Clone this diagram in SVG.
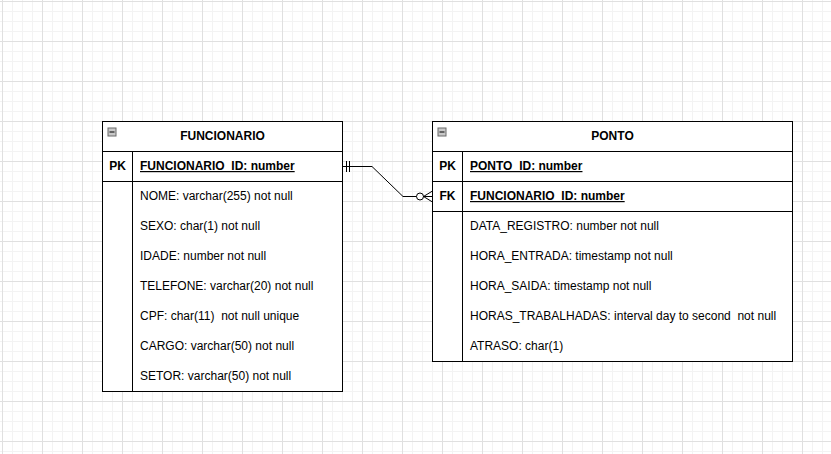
<svg xmlns="http://www.w3.org/2000/svg" width="831" height="454" viewBox="0 0 831 454">
<defs>
<pattern id="minor" x="2" y="1" width="10" height="10" patternUnits="userSpaceOnUse">
<path d="M0.5 0V10M0 0.5H10" stroke="#f3f3f3" stroke-width="1" fill="none"/>
</pattern>
<pattern id="major" x="2" y="1" width="40" height="40" patternUnits="userSpaceOnUse">
<path d="M0.5 0V40M0 0.5H40" stroke="#e0e0e0" stroke-width="1" fill="none"/>
</pattern>
<g id="mini">
<rect x="0.5" y="0.5" width="8" height="8" fill="#c8c8c8" stroke="#6a6a6a"/>
<line x1="2" y1="4.5" x2="7" y2="4.5" stroke="#000" stroke-width="1"/>
</g>
</defs>
<style>
.box{fill:#fff;stroke:#000;stroke-width:1}
.ln{stroke:#000;stroke-width:1;fill:none}
text{font-family:"Liberation Sans",Arial,sans-serif;font-size:12px;fill:#000}
.t{font-weight:bold;text-anchor:middle}
.k{font-weight:bold;text-anchor:middle}
.u{font-weight:bold;text-decoration:underline}
</style>
<rect width="831" height="454" fill="#fff"/>
<rect width="831" height="454" fill="url(#minor)"/>
<rect width="831" height="454" fill="url(#major)"/>

<g id="connectors">
<path class="ln" d="M342.5 166.5H372L403 196.5H416.5"/>
<line class="ln" x1="346.5" y1="161" x2="346.5" y2="172"/>
<line class="ln" x1="349.5" y1="161" x2="349.5" y2="172"/>
<circle class="ln" cx="420" cy="196.5" r="3.5" fill="#fff"/>
<path class="ln" d="M432.5 191L423.5 196.5L432.5 202M423.5 196.5H432.5"/>
</g>

<g id="funcionario">
<rect class="box" x="102.5" y="121.5" width="240" height="270"/>
<line class="ln" x1="102.5" y1="151.5" x2="342.5" y2="151.5"/>
<line class="ln" x1="102.5" y1="181.5" x2="342.5" y2="181.5"/>
<line class="ln" x1="132.5" y1="151.5" x2="132.5" y2="391.5"/>
<use href="#mini" x="107.5" y="127.5"/>
<text class="t" x="222.5" y="140">FUNCIONARIO</text>
<text class="k" x="117.5" y="170">PK</text>
<text class="u" x="140" y="170">FUNCIONARIO_ID: number</text>
<text x="140" y="200">NOME: varchar(255) not null</text>
<text x="140" y="230">SEXO: char(1) not null</text>
<text x="140" y="260">IDADE: number not null</text>
<text x="140" y="290">TELEFONE: varchar(20) not null</text>
<text x="140" y="320" xml:space="preserve">CPF: char(11)  not null unique</text>
<text x="140" y="350">CARGO: varchar(50) not null</text>
<text x="140" y="380">SETOR: varchar(50) not null</text>
</g>

<g id="ponto">
<rect class="box" x="432.5" y="121.5" width="360" height="240"/>
<line class="ln" x1="432.5" y1="151.5" x2="792.5" y2="151.5"/>
<line class="ln" x1="432.5" y1="181.5" x2="792.5" y2="181.5"/>
<line class="ln" x1="432.5" y1="211.5" x2="792.5" y2="211.5"/>
<line class="ln" x1="462.5" y1="151.5" x2="462.5" y2="361.5"/>
<use href="#mini" x="437.5" y="127.5"/>
<text class="t" x="612.5" y="140">PONTO</text>
<text class="k" x="447.5" y="170">PK</text>
<text class="u" x="470" y="170">PONTO_ID: number</text>
<text class="k" x="447.5" y="200">FK</text>
<text class="u" x="470" y="200">FUNCIONARIO_ID: number</text>
<text x="470" y="230">DATA_REGISTRO: number not null</text>
<text x="470" y="260">HORA_ENTRADA: timestamp not null</text>
<text x="470" y="290">HORA_SAIDA: timestamp not null</text>
<text x="470" y="320" xml:space="preserve">HORAS_TRABALHADAS: interval day to second  not null</text>
<text x="470" y="350">ATRASO: char(1)</text>
</g>
</svg>
